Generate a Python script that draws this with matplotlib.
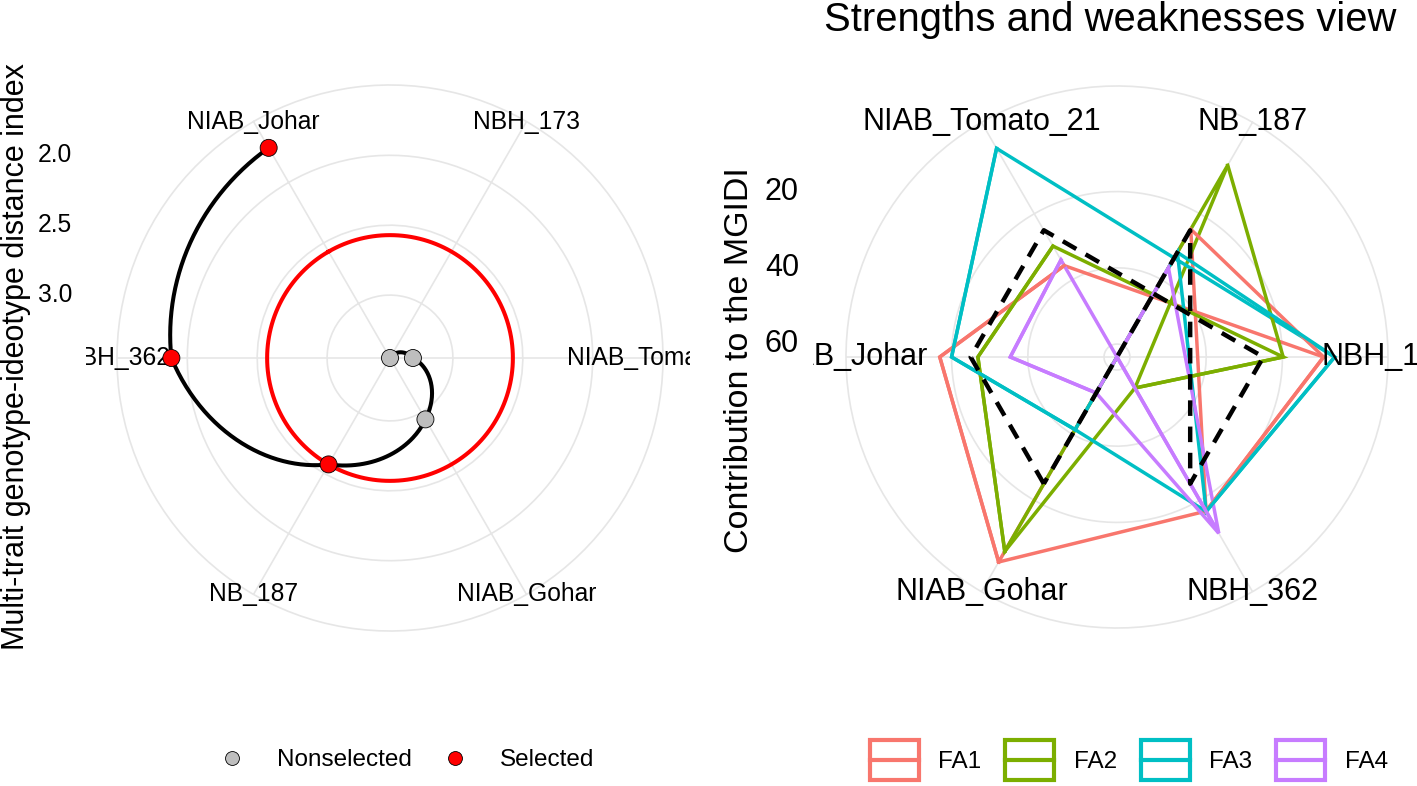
import numpy as np
import matplotlib
matplotlib.use("Agg")
import matplotlib.pyplot as plt
from matplotlib.lines import Line2D
from matplotlib.patches import Rectangle
from matplotlib.legend_handler import HandlerBase
from matplotlib.transforms import Bbox, TransformedBbox

plt.rcParams['font.family'] = ['Liberation Sans', 'DejaVu Sans']

# MGIDI index (left panel), genotypes in plotting order
mgidi_genotypes = ['NIAB_Johar', 'NBH_362', 'NB_187', 'NIAB_Gohar', 'NIAB_Tomato_21', 'NBH_173']
mgidi_values = [1.714, 1.886, 2.571, 2.943, 3.286, 3.450]
mgidi_status = ['Selected', 'Selected', 'Selected', 'Nonselected', 'Nonselected', 'Nonselected']
mgidi_ticks = [2.0, 2.5, 3.0]

# contribution of each factor to the MGIDI (right panel), in %
contrib_genotypes = ['NB_187', 'NBH_173', 'NBH_362', 'NIAB_Gohar', 'NIAB_Johar', 'NIAB_Tomato_21']
fa1_contrib = [24.7, 9.2, 16.7, 1.3, 16.9, 35.7]
fa2_contrib = [5.3, 19.8, 54.0, 4.5, 26.9, 29.8]
fa3_contrib = [31.7, 6.3, 16.6, 41.4, 20.0, 0.2]
fa4_contrib = [36.4, 63.4, 10.0, 52.5, 35.4, 34.0]
factor_names = ['FA1', 'FA2', 'FA3', 'FA4']
factor_colors = ['#F8766D', '#7CAE00', '#00BFC4', '#C77CFF']
# row order of the genotypes in the contribution table (polygon vertex order)
table_order = ['NIAB_Gohar', 'NIAB_Johar', 'NIAB_Tomato_21', 'NBH_173', 'NBH_362', 'NB_187']
contrib_ticks = [20, 40, 60]

W, H = 1417, 786
GRID = '#E6E6E6'


def axes_rect(cx, cy, radius):
    """Figure-fraction rect of a square axes centred on pixel (cx, cy), y from top"""
    return [(cx - radius) / W, (H - cy - radius) / H, 2 * radius / W, 2 * radius / H]


def setup_polar(ax, n, offset_deg, direction, ticks, vmin, vmax):
    """Reversed radial scale, like coord_polar + scale_y_reverse in ggplot"""
    ax.set_theta_offset(np.deg2rad(offset_deg))
    ax.set_theta_direction(direction)
    # data fill 0.4 of the panel, the outer circle sits at 0.45
    ax.set_ylim(vmax, vmax - 1.125 * (vmax - vmin))
    ax.set_xticks(np.arange(n) * 2 * np.pi / n)
    ax.set_xticklabels([])
    ax.set_yticks(ticks)
    ax.set_yticklabels([])
    ax.tick_params(length=0)
    ax.grid(True, color=GRID, lw=1.2)
    ax.spines['polar'].set_color(GRID)
    ax.spines['polar'].set_linewidth(1.2)
    ax.set_facecolor('white')


def add_radial_labels(fig, ax, ticks, fmt, right_px, size):
    """Radial tick labels on the left of the panel, as ggplot draws them"""
    theta_up = (np.pi / 2 - ax.get_theta_offset()) * ax.get_theta_direction()
    for t in ticks:
        y = ax.transData.transform((theta_up, t))[1]
        fig.text(right_px / W, y / fig.bbox.height, fmt.format(t),
                 ha='right', va='center', fontsize=size)


def add_theta_labels(fig, ax, names, size, clip_x):
    """Genotype names centred on the outer circle, cut like in the original"""
    clip = TransformedBbox(Bbox.from_extents(clip_x[0] / W, 0, clip_x[1] / W, 1),
                           fig.transFigure)
    r_edge = ax.get_ylim()[1]
    theta = np.arange(len(names)) * 2 * np.pi / len(names)
    for th, name in zip(theta, names):
        txt = ax.text(th, r_edge, name, ha='center', va='center',
                      fontsize=size, clip_on=True)
        txt.set_clip_path(None)
        txt.set_clip_box(clip)


class KeyBoxHandler(HandlerBase):
    """ggplot style key: open box with a line through the middle"""
    def create_artists(self, legend, orig_handle, xdescent, ydescent,
                       width, height, fontsize, trans):
        color = orig_handle.get_edgecolor()
        box = Rectangle((-xdescent, -ydescent), width, height, fill=False,
                        edgecolor=color, lw=3, transform=trans)
        mid = Line2D([-xdescent, width - xdescent], [height / 2 - ydescent] * 2,
                     color=color, lw=3, transform=trans)
        return [box, mid]


def plot_mgidi(fig):
    """Left panel: MGIDI spiral with the selection cut point"""
    ax = fig.add_axes(axes_rect(390, 358, 273), projection='polar')
    n = len(mgidi_genotypes)
    values = np.array(mgidi_values)
    setup_polar(ax, n, 120, 1, mgidi_ticks, values.min(), values.max())
    theta = np.arange(n) * 2 * np.pi / n

    # cut point = largest index among the selected genotypes
    cut = max(v for v, s in zip(mgidi_values, mgidi_status) if s == 'Selected')
    ring = np.linspace(0, 2 * np.pi, 361)
    ax.plot(ring, np.full_like(ring, cut), color='red', lw=2.9, zorder=2)

    line, = ax.plot(theta, values, color='black', lw=2.9, zorder=3)
    line.get_path()._interpolation_steps = 60  # curve between points like coord_polar

    colors = ['red' if s == 'Selected' else '#BEBEBE' for s in mgidi_status]
    ax.scatter(theta, values, c=colors, s=150, edgecolors='black',
               linewidths=0.6, zorder=4)

    add_radial_labels(fig, ax, mgidi_ticks, '{:.1f}', 72, 17.7)
    add_theta_labels(fig, ax, mgidi_genotypes, 17.7, (86, 690))
    fig.text(16 / W, 1 - 357 / H, 'Multi-trait genotype-ideotype distance index',
             rotation=90, ha='center', va='center', fontsize=22)

    handles = [Line2D([], [], ls='', marker='o', ms=10, mfc=c, mec='black', mew=0.6)
               for c in ['#BEBEBE', 'red']]
    fig.legend(handles, ['Nonselected', 'Selected'], loc='center',
               bbox_to_anchor=(407 / W, 1 - 760 / H), ncol=2, frameon=False,
               fontsize=17.5, handlelength=1.0, handletextpad=1.35,
               columnspacing=1.27)


def plot_contribution(fig):
    """Right panel: strengths and weaknesses radar"""
    ax = fig.add_axes(axes_rect(1117, 357, 271), projection='polar')
    n = len(contrib_genotypes)
    series = [fa1_contrib, fa2_contrib, fa3_contrib, fa4_contrib]
    all_vals = np.concatenate(series)
    setup_polar(ax, n, 60, -1, contrib_ticks, all_vals.min(), all_vals.max())
    theta = np.arange(n) * 2 * np.pi / n
    pos = dict(zip(contrib_genotypes, theta))
    poly_theta = [pos[g] for g in table_order] + [pos[table_order[0]]]

    # polygons follow the table rows, the lines follow the axis order
    for vals, color in zip(series, factor_colors):
        lookup = dict(zip(contrib_genotypes, vals))
        poly_r = [lookup[g] for g in table_order] + [lookup[table_order[0]]]
        ax.plot(poly_theta, poly_r, color=color, lw=2.5, zorder=2,
                solid_joinstyle='miter')
    for vals, color in zip(series, factor_colors):
        ax.plot(theta, vals, color=color, lw=2.5, zorder=2, solid_joinstyle='miter')

    # theoretical equal contribution of the factors
    expected = 100 / len(factor_names)
    ax.plot(poly_theta, [expected] * len(poly_theta), color='black', lw=3.2,
            ls=(0, (3.5, 2.4)), zorder=3)

    add_radial_labels(fig, ax, contrib_ticks, '{:d}', 799, 22)
    add_theta_labels(fig, ax, contrib_genotypes, 22, (813, W))
    fig.text(739 / W, 1 - 360 / H, 'Contribution to the MGIDI',
             rotation=90, ha='center', va='center', fontsize=24.5)
    fig.text(1110 / W, 1 - 31 / H, 'Strengths and weaknesses view',
             ha='center', va='baseline', fontsize=28.8)

    handles = [Rectangle((0, 0), 1, 1, fill=False, edgecolor=c) for c in factor_colors]
    fig.legend(handles, factor_names, loc='center',
               bbox_to_anchor=(1129 / W, 1 - 760 / H), ncol=4, frameon=False,
               fontsize=17.5, handlelength=2.0, handleheight=2.2,
               handletextpad=0.82, columnspacing=0.98,
               handler_map={Rectangle: KeyBoxHandler()})


def main():
    fig = plt.figure(figsize=(W / 100, H / 100), dpi=100, facecolor='white')
    plot_mgidi(fig)
    plot_contribution(fig)
    fig.savefig('out.png', dpi=100, facecolor='white')


if __name__ == "__main__":
    main()
